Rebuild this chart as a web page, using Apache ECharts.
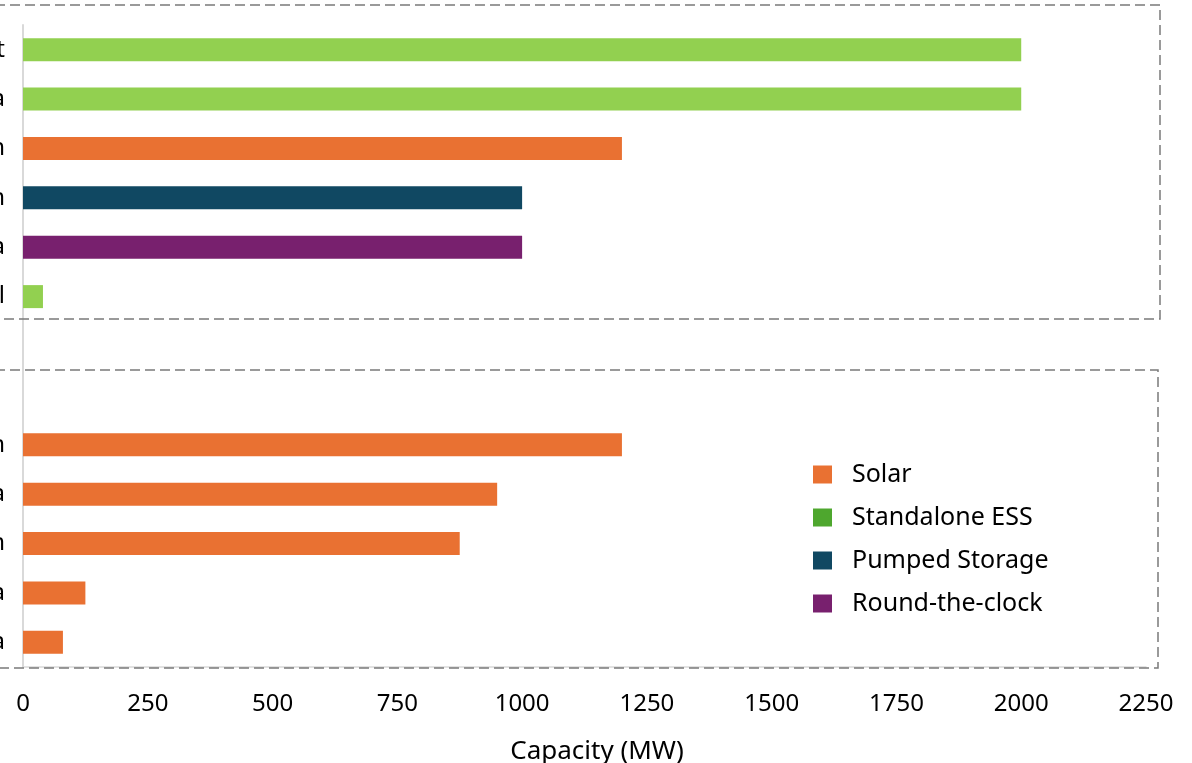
<!DOCTYPE html>
<html>
<head>
<meta charset="utf-8">
<script src="https://cdn.jsdelivr.net/npm/echarts@6/dist/echarts.min.js"></script>
<style>
html,body{margin:0;padding:0;background:#fff;}
#chart{width:1192px;height:763px;}
</style>
</head>
<body>
<div id="chart"></div>
<script>
// Categories, top to bottom (two blank rows separate the groups)
const categories = ["Gujarat", "Maharashtra", "Rajasthan", "Himachal Pradesh", "Karnataka", "West Bengal", "", " ",
  "Uttar Pradesh", "Odisha", "Andhra Pradesh", "Telangana", "Kerala"];
const seriesNames = ["Solar", "Standalone ESS", "Pumped Storage", "Round-the-clock"];
const solarValues   = [null, null, 1200, null, null, null, null, null, 1200, 950, 875, 125, 80];
const essValues     = [2000, 2000, null, null, null, 40, null, null, null, null, null, null, null];
const pumpedValues  = [null, null, null, 1000, null, null, null, null, null, null, null, null, null];
const rtcValues     = [null, null, null, null, 1000, null, null, null, null, null, null, null, null];
const xTicks = [0, 250, 500, 750, 1000, 1250, 1500, 1750, 2000, 2250];

const FONT = "Noto Sans";
const chart = echarts.init(document.getElementById('chart'));

function bar(name, values, color, barColor) {
  return {
    name: name,
    type: 'bar',
    stack: 'all',
    barWidth: 23,
    itemStyle: { color: color },
    data: values.map(v => v == null ? null : (barColor ? { value: v, itemStyle: { color: barColor } } : v)),
    emphasis: { disabled: true }
  };
}

chart.setOption({
  animation: false,
  backgroundColor: '#ffffff',
  textStyle: { fontFamily: FONT },
  grid: { left: 23, right: 46, top: 25, bottom: 96, containLabel: false, outerBoundsMode: 'none' },
  legend: {
    orient: 'vertical',
    left: 808,
    top: 457,
    itemWidth: 19,
    itemHeight: 18,
    itemGap: 18,
    icon: 'rect',
    data: seriesNames,
    textStyle: { fontFamily: FONT, fontSize: 25, color: '#000', padding: [0, 0, 0, 15] }
  },
  xAxis: {
    type: 'value',
    min: xTicks[0],
    max: xTicks[xTicks.length - 1],
    interval: 250,
    splitLine: { show: false },
    axisTick: { show: false },
    axisLine: { show: true, lineStyle: { color: '#d9d9d9', width: 1.5 } },
    axisLabel: { fontFamily: FONT, fontSize: 24, color: '#000', margin: 25, formatter: v => String(v) },
    name: 'Capacity (MW)',
    nameLocation: 'middle',
    nameGap: 72,
    nameTextStyle: { fontFamily: FONT, fontSize: 26, color: '#000', padding: [0, 0, 0, 25] }
  },
  yAxis: {
    type: 'category',
    data: categories,
    inverse: true,
    axisTick: { show: false },
    axisLine: { show: true, lineStyle: { color: '#d9d9d9', width: 2 } },
    axisLabel: { fontFamily: FONT, fontSize: 24, color: '#000', margin: 18, padding: [6, 0, 0, 0] },
    splitLine: { show: false }
  },
  graphic: [
    { type: 'rect', z: 10, shape: { x: -20, y: 5, width: 1180, height: 314 },
      style: { fill: 'none', stroke: '#7a7a7a', lineWidth: 1.5, lineDash: [10, 5] } },
    { type: 'rect', z: 10, shape: { x: -20, y: 370, width: 1178, height: 298 },
      style: { fill: 'none', stroke: '#7a7a7a', lineWidth: 1.5, lineDash: [10, 5] } }
  ],
  series: [
    bar(seriesNames[0], solarValues, '#E97132'),
    bar(seriesNames[1], essValues, '#4EA72E', '#92D050'),
    bar(seriesNames[2], pumpedValues, '#104862'),
    bar(seriesNames[3], rtcValues, '#78206E')
  ]
});
</script>
</body>
</html>
